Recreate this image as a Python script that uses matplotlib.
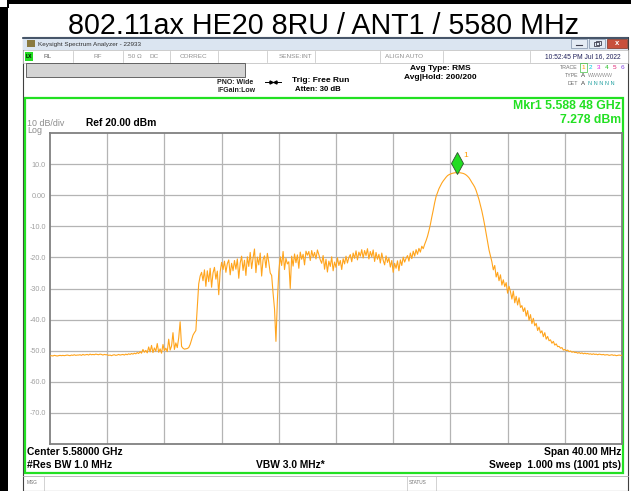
import numpy as np
import matplotlib
matplotlib.use("Agg")
import matplotlib.pyplot as plt
from matplotlib.patches import Rectangle
import matplotlib.transforms as mtransforms

# ---------------- data ----------------
title_text = "802.11ax HE20 8RU / ANT1 / 5580 MHz"
center_mhz = 5580.0
span_mhz = 40.0
ref_level_dbm = 20.0
db_per_div = 10.0
freq_start_mhz = 5560.0
freq_step_mhz = 0.1
y_tick_values = [10, 0, -10, -20, -30, -40, -50, -60, -70]
y_tick_labels = ["10.0", "0.00", "-10.0", "-20.0", "-30.0", "-40.0",
                 "-50.0", "-60.0", "-70.0"]
x_grid_mhz = [5564, 5568, 5572, 5576, 5580, 5584, 5588, 5592, 5596]
marker_freq_mhz = 5588.48
marker_level_dbm = 7.278

# trace levels (dBm), one value per 0.1 MHz from 5560.0 to 5600.0
levels_dbm = [
    # 5560
    -51.7, -51.6, -51.7, -51.5, -51.6, -51.7, -51.6, -51.5, -51.6, -51.5,
    # 5561
    -51.6, -51.5, -51.4, -51.5, -51.6, -51.4, -51.5, -51.3, -51.5, -51.4,
    # 5562
    -51.4, -51.3, -51.5, -51.2, -51.4, -51.3, -51.2, -51.4, -51.1, -51.3,
    # 5563
    -51.2, -51.3, -51.1, -51.2, -51.3, -51.1, -51.2, -51.4, -51.2, -51.3,
    # 5564
    -51.3, -51.5, -51.4, -51.6, -51.4, -51.3, -51.5, -51.4, -51.2, -51.4,
    # 5565
    -51.3, -51.2, -51.4, -51.1, -51.3, -51.0, -51.2, -50.9, -51.1, -50.8,
    # 5566
    -51.0, -50.6, -50.9, -50.3, -50.8, -49.6, -50.5, -49.9, -50.7, -48.8,
    # 5567
    -50.4, -48.3, -50.6, -49.1, -50.2, -47.7, -50.5, -49.4, -50.8, -48.0,
    # 5568
    -50.0, -49.2, -50.3, -46.3, -49.8, -48.5, -44.2, -49.6, -47.5, -49.0,
    # 5569
    -45.9, -40.7, -48.6, -49.2, -49.5, -49.4, -49.3, -49.0, -48.0, -46.5,
    # 5570
    -45.0, -44.2, -43.5, -36.0, -28.5, -26.0, -24.8, -27.5, -24.0, -29.3,
    # 5571
    -24.3, -27.8, -23.5, -29.6, -25.0, -23.2, -27.0, -24.4, -32.0, -24.6,
    # 5572
    -21.6, -23.9, -21.2, -24.8, -22.0, -20.8, -25.6, -21.9, -24.3, -21.0,
    # 5573
    -23.8, -20.5, -26.7, -21.8, -19.6, -24.2, -20.9, -25.8, -19.8, -22.9,
    # 5574
    -18.4, -23.6, -20.2, -17.3, -24.9, -19.9, -22.4, -18.6, -26.0, -20.7,
    # 5575
    -19.5, -23.3, -18.7, -21.6, -25.0, -25.8, -31.5, -36.5, -47.0, -34.0,
    # 5576
    -24.5, -19.8, -22.6, -18.1, -23.9, -20.3, -22.1, -21.4, -30.0, -19.6,
    # 5577
    -22.8, -18.9, -21.7, -19.2, -23.5, -18.3, -20.6, -19.0, -22.4, -18.0,
    # 5578
    -19.3, -18.1, -21.0, -17.8, -19.9, -18.4, -20.5, -17.6, -19.1, -20.8,
    # 5579
    -21.9, -19.4, -23.8, -20.6, -24.7, -21.2, -22.9, -19.8, -24.3, -21.5,
    # 5580
    -23.2, -20.1, -22.6, -21.0, -23.9, -20.4, -22.1, -19.6, -21.8, -20.0,
    # 5581
    -19.1, -21.4, -18.6, -20.3, -17.9, -20.8, -18.3, -19.6, -17.5, -20.2,
    # 5582
    -17.8, -19.4, -17.2, -20.5, -18.1, -19.8, -17.6, -21.3, -18.4, -20.6,
    # 5583
    -19.0, -21.8, -18.6, -20.9, -22.4, -19.5, -21.6, -20.2, -23.1, -21.0,
    # 5584
    -24.8, -21.9, -23.5, -21.1, -24.3, -20.8, -22.6, -19.9, -21.5, -20.3,
    # 5585
    -19.4, -21.2, -18.6, -20.4, -18.0, -19.6, -17.5, -19.0, -17.1, -18.3,
    # 5586
    -16.4, -17.2, -15.8, -14.6, -13.2, -11.4, -9.4, -7.0, -4.8, -2.4,
    # 5587
    -0.4, 0.9, 2.1, 3.0, 3.9, 4.6, 5.2, 5.8, 6.3, 6.6,
    # 5588
    6.8, 7.0, 7.1, 7.2, 7.26, 7.278, 7.25, 7.2, 7.1, 7.0,
    # 5589
    6.8, 6.5, 6.1, 5.6, 4.9, 4.1, 3.4, 2.6, 1.5, 0.1,
    # 5590
    -1.4, -3.2, -5.1, -7.3, -9.7, -12.4, -15.2, -17.6, -19.5, -21.4,
    # 5591
    -24.0, -22.6, -26.3, -24.8, -27.5, -25.6, -28.9, -27.2, -29.4, -28.1,
    # 5592
    -31.5, -29.3, -31.0, -33.4, -30.8, -34.6, -32.5, -35.3, -33.0, -36.1,
    # 5593
    -35.5, -37.4, -36.2, -38.9, -37.1, -40.2, -38.4, -41.3, -39.6, -42.0,
    # 5594
    -41.2, -43.5, -42.4, -44.3, -43.6, -45.5, -44.2, -46.3, -45.4, -46.8,
    # 5595
    -46.5, -47.6, -47.0, -48.2, -47.8, -48.7, -48.6, -49.2, -49.0, -49.8,
    # 5596
    -49.6, -50.0, -49.8, -50.3, -50.1, -50.5, -50.3, -50.6, -50.5, -50.8,
    # 5597
    -50.6, -50.9, -50.7, -51.0, -50.8, -51.0, -50.9, -51.1, -51.0, -51.2,
    # 5598
    -51.0, -51.2, -51.1, -51.3, -51.1, -51.2, -51.3, -51.2, -51.4, -51.3,
    # 5599
    -51.3, -51.5, -51.4, -51.3, -51.5, -51.4, -51.6, -51.5, -51.4, -51.5,
    # 5600
    -51.5,
]

freqs_mhz = freq_start_mhz + freq_step_mhz * np.arange(len(levels_dbm))

# ---------------- style ----------------
plt.rcParams['font.family'] = ['Liberation Sans', 'DejaVu Sans']
W, H = 631, 491
GREEN = '#22e022'
TRACE = '#ffa41c'
GRAY_T = '#8c8c8c'

fig = plt.figure(figsize=(W / 100, H / 100), dpi=100)
deco = fig.add_axes([0, 0, 1, 1])
deco.set_xlim(0, W)
deco.set_ylim(H, 0)
deco.axis('off')


def rect(x, y, w, h, fc, ec='none', lw=0, z=1):
    deco.add_patch(Rectangle((x, y), w, h, facecolor=fc, edgecolor=ec,
                             linewidth=lw, zorder=z))


def txt(x, y, s, size, color='black', weight='normal', ha='left', va='center', z=5):
    deco.text(x, y, s, fontsize=size, color=color, fontweight=weight,
              ha=ha, va=va, zorder=z)


# outer black borders
rect(7, 0, W - 7, 3.5, 'black', z=3)
rect(0, 7, 7.5, H - 7, 'black', z=3)
rect(7, 0, 2, 8, 'black', z=3)

# title
txt(323, 34, title_text, 20.6, va='baseline', ha='center')

# window
rect(23, 37, 605, H - 37, 'white', ec='#404040', lw=0.8, z=1)
rect(23, 37, 605, 13, '#dbe5f1', z=2)
deco.plot([23, 628], [37.5, 37.5], color='#2a3a50', lw=1.2, zorder=3)
rect(27, 40, 8, 7, '#8a7a40', z=3)
txt(38, 44, "Keysight Spectrum Analyzer - 22933", 4.6, color='#303030')
# title bar buttons
rect(571, 39, 16, 9, '#e4ebf4', ec='#8090a8', lw=0.5, z=3)
deco.plot([576, 582], [45, 45], color='#404050', lw=0.8, zorder=4)
rect(589, 39, 16, 9, '#e4ebf4', ec='#8090a8', lw=0.5, z=3)
rect(594, 42, 5, 4, 'none', ec='#404050', lw=0.6, z=4)
rect(596, 41, 5, 4, 'none', ec='#404050', lw=0.6, z=4)
rect(607, 39, 20, 9, '#c8503c', ec='#803020', lw=0.5, z=3)
txt(617, 43.5, "x", 5.5, color='white', weight='bold', ha='center')

# status row
rect(23, 50, 605, 12.5, 'white', ec='#b8b8b8', lw=0.5, z=2)
rect(25, 51.5, 8, 9, '#22dd22', z=3)
txt(29, 56.5, "LX", 3.6, weight='bold', ha='center')
for sx in [73, 123, 170, 218, 267, 315, 380, 443, 530]:
    deco.plot([sx, sx], [50.5, 62], color='#c0c0c0', lw=0.5, zorder=3)
txt(43, 56.5, "RL", 4.6, color='#606060')
txt(93, 56.5, "RF", 4.6, color='#909090')
txt(128, 56.5, "50 Ω", 4.6, color='#909090')
txt(150, 56.5, "DC", 4.6, color='#909090')
txt(180, 56.5, "CORREC", 4.6, color='#909090')
txt(279, 56.5, "SENSE:INT", 4.6, color='#909090')
txt(385, 56.5, "ALIGN AUTO", 4.6, color='#909090')
txt(621, 56.5, "10:52:45 PM Jul 16, 2022", 4.8, color='#20205a', ha='right')

# gray box
rect(26, 63, 219, 14, '#d4d4d4', ec='#505050', lw=0.6, z=3)

# info text
txt(217, 82, "PNO: Wide", 5.0, weight='bold', color='#202020')
txt(217, 90.5, "IFGain:Low", 5.0, weight='bold', color='#202020')
deco.plot([265, 281], [82, 82], color='black', lw=0.7, zorder=4)
deco.plot([271], [82], marker='>', ms=2.2, color='black', zorder=4)
deco.plot([275], [82], marker='<', ms=2.2, color='black', zorder=4)
txt(292, 80, "Trig: Free Run", 6.0, weight='bold')
txt(295, 89.5, "Atten: 30 dB", 5.6, weight='bold')
txt(440, 68, "Avg Type: RMS", 6.0, weight='bold', ha='center')
txt(440, 77, "Avg|Hold: 200/200", 6.0, weight='bold', ha='center')

# trace block
txt(578, 67, "TRACE", 3.8, color='#707070', ha='right')
txt(578, 75, "TYPE", 3.8, color='#707070', ha='right')
txt(578, 83, "DET", 3.8, color='#707070', ha='right')
trace_cols = ['#ff9a00', '#00c8e0', '#e020e0', '#20c020', '#e02070', '#8040e0']
for i, c in enumerate(trace_cols):
    txt(583 + i * 7.9, 67, str(i + 1), 4.6, color=c, ha='center')
rect(579.5, 62.5, 7, 9, 'none', ec='#40c040', lw=0.5, z=4)
txt(583, 75, "A", 4.4, color='#404040', ha='center')
txt(588, 75, "WWWWW", 3.8, color='#909090', ha='left')
txt(583, 83, "A", 4.4, color='#404040', ha='center')
txt(588, 83, "N N N N N", 4.0, color='#20a0a0', ha='left')

# green display frame
rect(25, 98, 598, 375, 'white', ec=GREEN, lw=1.6, z=2)

# marker readout
txt(621, 105.5, "Mkr1 5.588 48 GHz", 8.8, color=GREEN, weight='bold', ha='right')
txt(621, 120, "7.278 dBm", 8.8, color=GREEN, weight='bold', ha='right')
txt(27, 123, "10 dB/div", 6.4, color=GRAY_T)
txt(27, 130.5, "Log", 6.4, color=GRAY_T)
txt(86, 122.5, "Ref 20.00 dBm", 7.4, weight='bold')

# bottom annotations
txt(27, 452, "Center 5.58000 GHz", 7.4, weight='bold')
txt(27, 465, "#Res BW 1.0 MHz", 7.4, weight='bold')
txt(256, 465, "VBW 3.0 MHz*", 7.4, weight='bold')
txt(621, 452, "Span 40.00 MHz", 7.4, weight='bold', ha='right')
txt(621, 465, "Sweep  1.000 ms (1001 pts)", 7.4, weight='bold', ha='right')

# message / status bar
deco.plot([23, 628], [475.5, 475.5], color='#b0b0b0', lw=0.6, zorder=3)
deco.plot([44, 44], [476, H], color='#c0c0c0', lw=0.5, zorder=3)
deco.plot([407, 407], [476, H], color='#c0c0c0', lw=0.5, zorder=3)
deco.plot([436, 436], [476, H], color='#c0c0c0', lw=0.5, zorder=3)
txt(27, 483, "MSG", 3.4, color='#707070')
txt(409, 483, "STATUS", 3.4, color='#707070')

# ---------------- plot area ----------------
ax = fig.add_axes([50 / W, (H - 444) / H, 572 / W, 311 / H])
ax.set_zorder(5)
ax.set_facecolor('white')
f_lo = center_mhz - span_mhz / 2
f_hi = center_mhz + span_mhz / 2
ax.set_xlim(f_lo, f_hi)
ax.set_ylim(ref_level_dbm - 10 * db_per_div, ref_level_dbm)
ax.set_xticks(x_grid_mhz)
ax.set_xticklabels([])
ax.set_yticks(y_tick_values)
ax.set_yticklabels(y_tick_labels)
ax.tick_params(axis='both', length=0)
ax.tick_params(axis='y', pad=3, labelsize=5.2, labelcolor='#a0a0a0')
ax.grid(True, color='#b4b4b4', lw=0.9)
ax.set_axisbelow(True)
for sp in ax.spines.values():
    sp.set_color('#808080')
    sp.set_linewidth(1.3)

ax.plot(freqs_mhz, levels_dbm, color=TRACE, lw=0.8, zorder=3)

# marker diamond above the peak
off = mtransforms.ScaledTranslation(0, 9.5 / 100, fig.dpi_scale_trans)
ax.plot([marker_freq_mhz], [marker_level_dbm], marker='d', ms=11,
        markerfacecolor='#22dd22', markeredgecolor='#305030', mew=0.6,
        transform=ax.transData + off, zorder=4, clip_on=False)
off2 = mtransforms.ScaledTranslation(8 / 100, 17 / 100, fig.dpi_scale_trans)
ax.text(marker_freq_mhz, marker_level_dbm, "1", fontsize=6, color='#ff9a00',
        transform=ax.transData + off2, ha='center', va='center', zorder=4)

fig.savefig("out.png", dpi=100)
